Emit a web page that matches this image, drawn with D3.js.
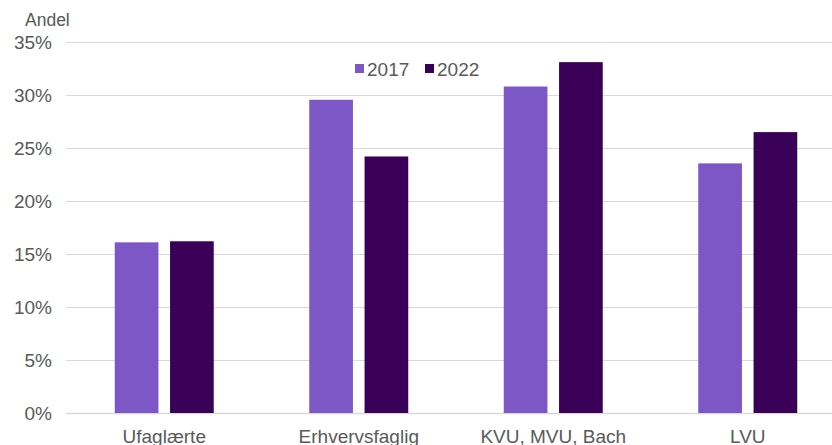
<!DOCTYPE html>
<html>
<head>
<meta charset="utf-8">
<script src="https://cdnjs.cloudflare.com/ajax/libs/d3/7.8.5/d3.min.js"></script>
<style>
  body { margin: 0; background: #fff; }
  svg { display: block; font-family: "Liberation Sans", Arial, sans-serif; }
</style>
</head>
<body>
<svg width="832" height="445"></svg>
<script>
// data
var categories = ["Ufaglærte", "Erhvervsfaglig", "KVU, MVU, Bach", "LVU"];
var years = ["2017", "2022"];
var values2017 = [16.1, 29.55, 30.8, 23.55];
var values2022 = [16.2, 24.2, 33.1, 26.5];
var yTicks = [0, 5, 10, 15, 20, 25, 30, 35];
var colors = ["#7e57c6", "#3a0058"];

var svg = d3.select("svg");

var xScale = d3.scaleBand().domain(categories).range([67, 845]);
var inner = d3.scaleBand().domain(years).range([-49.5, 49.5]).paddingInner(0.21);
var yScale = d3.scaleLinear().domain([0, 35]).range([413, 42]);

// grid lines
svg.append("g")
  .selectAll("line")
  .data(yTicks)
  .enter()
  .append("line")
  .attr("x1", 66)
  .attr("x2", 832)
  .attr("y1", d => Math.round(yScale(d)) + 0.5)
  .attr("y2", d => Math.round(yScale(d)) + 0.5)
  .attr("stroke", "#d9d9d9")
  .attr("stroke-width", d => d == 0 ? 1.5 : 1);

// y axis labels
var yAxis = d3.axisLeft(yScale)
  .tickValues(yTicks)
  .tickSize(0)
  .tickPadding(0)
  .tickFormat(d => d + "%");

svg.append("g")
  .attr("transform", "translate(52,0)")
  .call(yAxis)
  .call(g => g.select(".domain").remove())
  .selectAll("text")
  .attr("font-size", 19)
  .attr("font-family", "Liberation Sans, Arial, sans-serif")
  .attr("fill", "#595959");

svg.append("text")
  .attr("x", 25)
  .attr("y", 26)
  .attr("font-size", 17.5)
  .attr("fill", "#595959")
  .text("Andel");

// bars
var rows = categories.map((c, i) => ({cat: c, vals: [values2017[i], values2022[i]]}));

var groups = svg.append("g")
  .selectAll("g")
  .data(rows)
  .enter()
  .append("g")
  .attr("transform", d => "translate(" + (xScale(d.cat) + xScale.bandwidth() / 2) + ",0)");

groups.selectAll("rect")
  .data(d => d.vals.map((v, j) => ({year: years[j], v: v, j: j})))
  .enter()
  .append("rect")
  .attr("x", d => inner(d.year))
  .attr("width", inner.bandwidth())
  .attr("y", d => yScale(d.v))
  .attr("height", d => yScale(0) - yScale(d.v))
  .attr("fill", d => colors[d.j]);

// x axis labels
var xAxis = d3.axisBottom(xScale).tickSize(0).tickPadding(0);
svg.append("g")
  .attr("transform", "translate(0,429)")
  .call(xAxis)
  .call(g => g.select(".domain").remove())
  .selectAll("text")
  .attr("font-size", 19)
  .attr("font-family", "Liberation Sans, Arial, sans-serif")
  .attr("fill", "#595959");

// legend
var legend = svg.append("g").attr("transform", "translate(355,69)");
var items = legend.selectAll("g")
  .data(years)
  .enter()
  .append("g")
  .attr("transform", (d, i) => "translate(" + (i * 70) + ",0)");

items.append("rect")
  .attr("x", 0)
  .attr("y", -5)
  .attr("width", 9)
  .attr("height", 9)
  .attr("fill", (d, i) => colors[i]);

items.append("text")
  .attr("x", 12)
  .attr("y", 7)
  .attr("font-size", 19)
  .attr("fill", "#595959")
  .text(d => d);
</script>
</body>
</html>
